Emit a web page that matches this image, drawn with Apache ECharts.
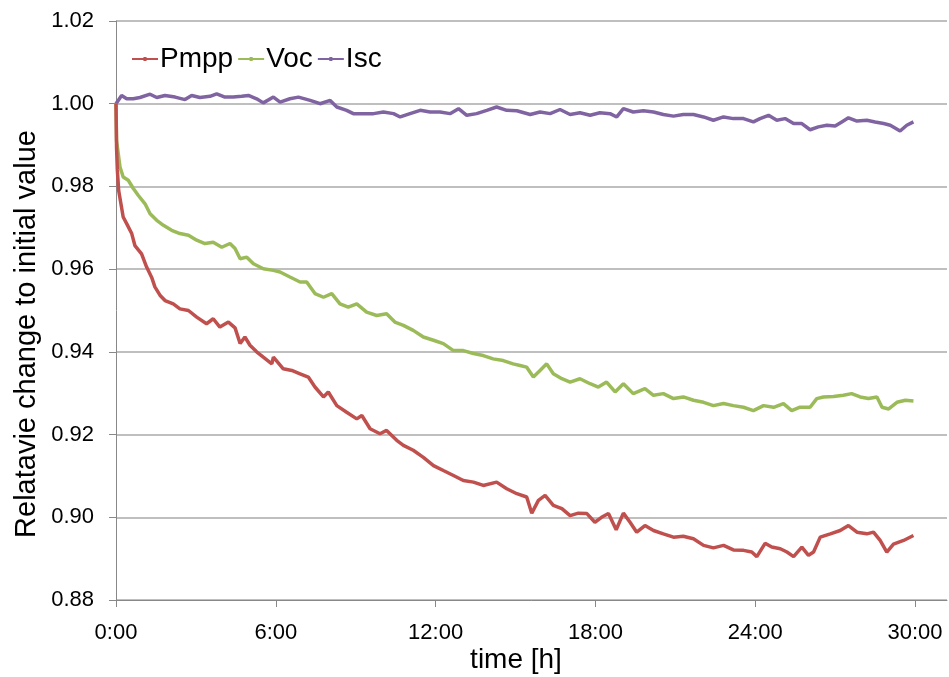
<!DOCTYPE html>
<html>
<head>
<meta charset="utf-8">
<script src="https://cdn.jsdelivr.net/npm/echarts@6/dist/echarts.min.js"></script>
<style>
html,body{margin:0;padding:0;background:#fff;}
#chart{width:949px;height:677px;}
</style>
</head>
<body>
<div id="chart"></div>
<script>
// ---- data (time in hours, value = relative change) ----
var seriesNames = ['Pmpp', 'Voc', 'Isc'];
var xTickHours = [0, 6, 12, 18, 24, 30];
var yTicks = [0.88, 0.90, 0.92, 0.94, 0.96, 0.98, 1.00, 1.02];

var pmppT = [0,0.02,0.05,0.1,0.27,0.40,0.59,0.71,0.96,1.15,1.34,1.46,1.65,1.84,2.15,2.40,2.72,3.03,3.40,3.65,3.90,4.22,4.47,4.66,4.84,5.03,5.28,5.53,5.85,5.91,6.28,6.60,6.91,7.22,7.47,7.79,7.97,8.29,8.66,9.04,9.23,9.54,9.91,10.16,10.54,10.79,11.16,11.54,11.92,12.29,12.67,13.04,13.42,13.79,14.29,14.67,15.05,15.42,15.61,15.86,16.11,16.42,16.74,17.05,17.36,17.68,17.98,18.23,18.49,18.78,19.05,19.30,19.55,19.86,20.18,20.55,20.93,21.30,21.68,22.06,22.43,22.81,23.18,23.56,23.87,24.06,24.37,24.62,24.94,25.19,25.44,25.75,26.00,26.19,26.44,26.82,27.19,27.50,27.82,28.19,28.44,28.69,28.94,29.19,29.57,29.94];
var pmppV = [1.000,0.9895,0.984,0.979,0.9726,0.971,0.9686,0.9657,0.9637,0.9605,0.958,0.9557,0.9537,0.9524,0.9516,0.9504,0.950,0.9484,0.9468,0.948,0.946,0.9472,0.9458,0.942,0.9436,0.9416,0.940,0.9387,0.9371,0.9387,0.9359,0.9355,0.9347,0.9339,0.9315,0.9291,0.9303,0.927,0.9254,0.9238,0.9246,0.9214,0.9202,0.921,0.9186,0.9174,0.9162,0.9145,0.9125,0.9113,0.9101,0.9089,0.9085,0.9077,0.9085,0.9069,0.9057,0.9049,0.901,0.9041,0.9053,0.9029,0.9021,0.9004,0.901,0.9009,0.8988,0.900,0.9009,0.897,0.901,0.8988,0.8964,0.898,0.8968,0.896,0.8952,0.8954,0.8948,0.8932,0.8926,0.8932,0.8921,0.892,0.8916,0.8905,0.8937,0.8928,0.8924,0.8916,0.8905,0.8928,0.8908,0.8916,0.8952,0.896,0.8968,0.898,0.8964,0.896,0.8964,0.8944,0.8916,0.8935,0.8944,0.8956];

var vocT = [0,0.02,0.15,0.27,0.46,0.65,0.84,1.09,1.28,1.53,1.78,2.09,2.40,2.72,3.03,3.34,3.65,3.97,4.28,4.47,4.66,4.91,5.16,5.53,5.91,6.16,6.53,6.91,7.16,7.47,7.79,8.10,8.41,8.72,9.04,9.41,9.79,10.16,10.47,10.79,11.16,11.54,11.92,12.29,12.67,13.04,13.42,13.79,14.16,14.54,14.91,15.17,15.42,15.67,15.92,16.17,16.42,16.74,17.05,17.42,17.80,18.11,18.42,18.74,19.05,19.42,19.86,20.18,20.55,20.93,21.30,21.68,22.06,22.43,22.81,23.18,23.56,23.93,24.31,24.69,25.06,25.37,25.66,26.06,26.31,26.56,26.94,27.31,27.62,27.94,28.25,28.57,28.76,29.01,29.32,29.64,29.94];
var vocV = [1.000,0.9911,0.9847,0.9823,0.9815,0.9795,0.9778,0.9758,0.9734,0.9718,0.9706,0.9694,0.9686,0.9682,0.967,0.9662,0.9665,0.9653,0.9662,0.965,0.9625,0.9629,0.9613,0.9601,0.9597,0.9593,0.9581,0.9569,0.9569,0.9541,0.9532,0.9541,0.9516,0.9508,0.9516,0.9496,0.9488,0.9492,0.9472,0.9464,0.9452,0.9436,0.9428,0.942,0.9403,0.9403,0.9396,0.9391,0.9383,0.9379,0.9371,0.9367,0.9363,0.9339,0.9355,0.9371,0.9347,0.9335,0.9327,0.9335,0.9323,0.9315,0.9327,0.9303,0.9323,0.9299,0.9311,0.9295,0.9299,0.9287,0.9291,0.9283,0.9278,0.927,0.9275,0.927,0.9266,0.9258,0.927,0.9266,0.9275,0.9258,0.9266,0.9266,0.9287,0.9291,0.9292,0.9295,0.9299,0.9291,0.9287,0.9291,0.9266,0.9262,0.9278,0.9283,0.9281];

var iscT = [0,0.21,0.40,0.65,0.90,1.28,1.53,1.84,2.22,2.59,2.84,3.15,3.53,3.78,4.09,4.40,4.72,4.97,5.28,5.53,5.91,6.16,6.53,6.85,7.29,7.66,8.04,8.29,8.66,8.91,9.29,9.67,10.04,10.42,10.67,11.04,11.42,11.79,12.17,12.54,12.86,13.17,13.54,13.92,14.29,14.67,15.05,15.55,15.92,16.30,16.67,17.05,17.42,17.80,18.17,18.55,18.80,19.05,19.42,19.80,20.18,20.55,20.93,21.30,21.68,22.06,22.43,22.81,23.18,23.56,23.93,24.18,24.50,24.81,25.12,25.44,25.75,26.06,26.37,26.69,27.0,27.25,27.50,27.82,28.19,28.50,28.82,29.07,29.44,29.69,29.94];
var iscV = [1.000,1.002,1.0012,1.0012,1.0015,1.0023,1.0015,1.002,1.0016,1.001,1.002,1.0015,1.0018,1.0024,1.0016,1.0016,1.0018,1.002,1.0012,1.0002,1.0016,1.0004,1.0012,1.0016,1.0008,1.000,1.0008,0.9992,0.9984,0.9976,0.9976,0.9976,0.998,0.9976,0.9968,0.9976,0.9984,0.998,0.998,0.9976,0.9988,0.9972,0.9976,0.9984,0.9992,0.9984,0.9983,0.9974,0.998,0.9976,0.9986,0.9974,0.9978,0.9972,0.9978,0.9976,0.9968,0.9988,0.998,0.9983,0.998,0.9974,0.997,0.9974,0.9974,0.9968,0.996,0.9968,0.9964,0.9964,0.9956,0.9964,0.9972,0.996,0.9964,0.9952,0.9952,0.9937,0.9944,0.9948,0.9946,0.9956,0.9966,0.9958,0.996,0.9956,0.9952,0.9948,0.9934,0.9948,0.9956];

function zip(t, v) { return t.map(function (x, i) { return [x, v[i]]; }); }

var FONT = '"Liberation Sans", Arial, sans-serif';
var colors = ['#C0504D', '#9BBB59', '#8064A2'];
var legendIcon = 'path://M0,4 L11,4 L11,3 L14,3 L14,4 L25,4 L25,6 L14,6 L14,7 L11,7 L11,6 L0,6 Z';

var chart = echarts.init(document.getElementById('chart'), null, {renderer: 'canvas'});
chart.setOption({
  animation: false,
  backgroundColor: '#ffffff',
  color: colors,
  grid: {left: 116, top: 21, right: 2, bottom: 77, containLabel: false},
  legend: {
    left: 127, top: 40,
    icon: legendIcon,
    itemWidth: 26, itemHeight: 5, itemGap: 5,
    textStyle: {fontFamily: FONT, fontSize: 28, color: '#000', padding: [0, 0, 0, -3]},
    data: seriesNames
  },
  xAxis: {
    type: 'value', min: 0, max: 31.2, interval: 6,
    axisLine: {show: true, lineStyle: {color: '#888888', width: 1}},
    axisTick: {show: true, length: 7, inside: false, customValues: xTickHours, lineStyle: {color: '#888888'}},
    axisLabel: {customValues: xTickHours, fontFamily: FONT, fontSize: 22, color: '#000', margin: 22,
      formatter: function (v) { return Math.round(v) + ':00'; }},
    splitLine: {show: false}
  },
  yAxis: {
    type: 'value', min: 0.88, max: 1.02, interval: 0.02,
    axisLine: {show: true, lineStyle: {color: '#888888', width: 1}},
    axisTick: {show: true, length: 7, inside: false, lineStyle: {color: '#888888'}},
    axisLabel: {fontFamily: FONT, fontSize: 22, color: '#000', margin: 22,
      formatter: function (v) { return v.toFixed(2); }},
    splitLine: {show: true, lineStyle: {color: '#BFBFBF', width: 2}}
  },
  graphic: [
    {type: 'text', x: 27, y: 334, rotation: Math.PI / 2,
      style: {text: 'Relatavie change to initial value', fontFamily: FONT, fontSize: 29, fill: '#000',
        align: 'center', verticalAlign: 'middle'}},
    {type: 'text', x: 516, y: 660,
      style: {text: 'time [h]', fontFamily: FONT, fontSize: 28, fill: '#000',
        align: 'center', verticalAlign: 'middle'}}
  ],
  series: [
    {name: seriesNames[0], type: 'line', data: zip(pmppT, pmppV), showSymbol: false, symbol: 'none',
      lineStyle: {width: 3.5, color: colors[0]}, itemStyle: {color: colors[0]}, z: 3},
    {name: seriesNames[1], type: 'line', data: zip(vocT, vocV), showSymbol: false, symbol: 'none',
      lineStyle: {width: 3.5, color: colors[1]}, itemStyle: {color: colors[1]}, z: 2},
    {name: seriesNames[2], type: 'line', data: zip(iscT, iscV), showSymbol: false, symbol: 'none',
      lineStyle: {width: 3.5, color: colors[2]}, itemStyle: {color: colors[2]}, z: 1}
  ]
});
</script>
</body>
</html>
